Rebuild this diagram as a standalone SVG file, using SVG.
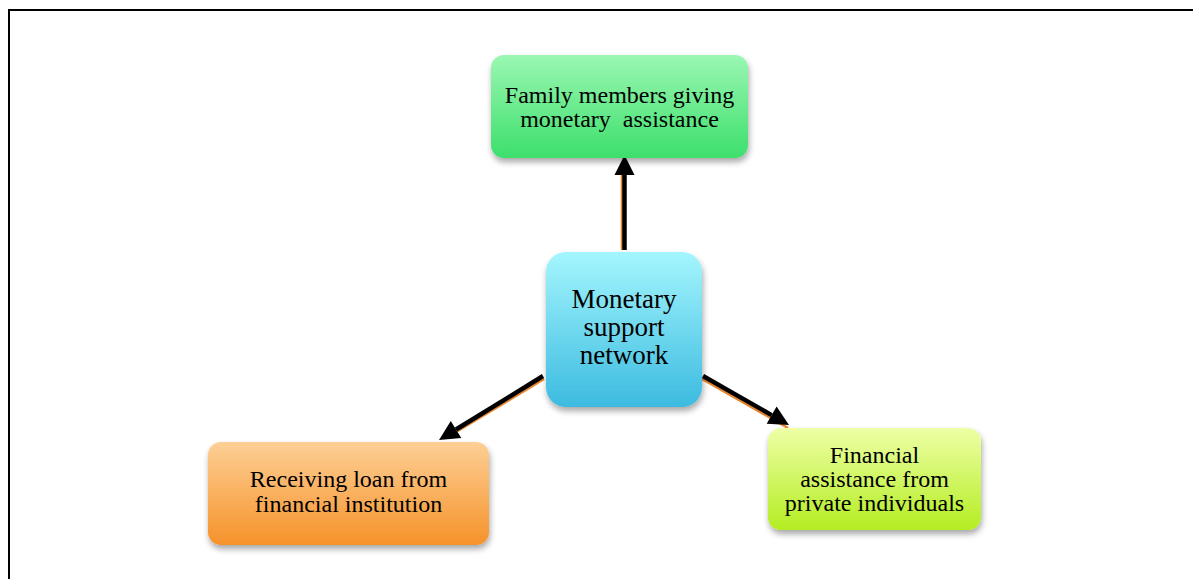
<svg xmlns="http://www.w3.org/2000/svg" width="1193" height="579" viewBox="0 0 1193 579">
<style>
.t{font-family:"Liberation Serif","Times New Roman",serif;fill:#000;text-anchor:middle}
.s{font-size:24px}
.c{font-size:27px}
.ln{stroke:#000;stroke-width:4.5;fill:none}
.ol{stroke:#e8862e;stroke-width:2.5;fill:none}
.hd{fill:#000}
</style>
<defs>
<linearGradient id="gG" x1="0" y1="0" x2="0" y2="1"><stop offset="0" stop-color="#9af7b2"/><stop offset="1" stop-color="#3ddf6c"/></linearGradient>
<linearGradient id="gB" x1="0" y1="0" x2="0" y2="1"><stop offset="0" stop-color="#a4f6fd"/><stop offset="1" stop-color="#3cbbe0"/></linearGradient>
<linearGradient id="gO" x1="0" y1="0" x2="0" y2="1"><stop offset="0" stop-color="#fdcf95"/><stop offset="1" stop-color="#f6922a"/></linearGradient>
<linearGradient id="gY" x1="0" y1="0" x2="0" y2="1"><stop offset="0" stop-color="#eeffa6"/><stop offset="1" stop-color="#b4ed22"/></linearGradient>
<filter id="sh" x="-10%" y="-10%" width="120%" height="130%"><feGaussianBlur in="SourceAlpha" stdDeviation="3"/><feOffset dx="1" dy="4"/><feComponentTransfer><feFuncA type="linear" slope="0.35"/></feComponentTransfer><feMerge><feMergeNode/><feMergeNode in="SourceGraphic"/></feMerge></filter>
</defs>
<rect x="9" y="10" width="1190" height="580" fill="#fff" stroke="#000" stroke-width="2"/>
<g id="connectors">
<line class="ol" x1="622" y1="250" x2="622" y2="172"/>
<line class="ln" x1="624.5" y1="250" x2="624.5" y2="174"/>
<polygon class="hd" points="624.5,155 634.5,175 614.5,175"/>
<line class="ol" x1="544" y1="379" x2="446" y2="438"/>
<line class="ln" x1="543" y1="376" x2="456" y2="429.5"/>
<polygon class="hd" points="439,440 461.3,438 450.8,421"/>
<line class="ol" x1="702" y1="379" x2="788" y2="428"/>
<line class="ln" x1="703" y1="376" x2="771.6" y2="415.1"/>
<polygon class="hd" points="789,425 766.7,423.8 776.6,406.4"/>
</g>
<g id="family">
<rect x="491" y="55" width="257" height="103" rx="13" fill="url(#gG)" filter="url(#sh)"/>
<text class="t s" x="619.5" y="103">Family members giving</text>
<text class="t s" x="619.5" y="127" xml:space="preserve">monetary  assistance</text>
</g>
<g id="center">
<rect x="546" y="252" width="156" height="155" rx="20" fill="url(#gB)" filter="url(#sh)"/>
<text class="t c" x="624" y="308">Monetary</text>
<text class="t c" x="624" y="336">support</text>
<text class="t c" x="624" y="364">network</text>
</g>
<g id="loan">
<rect x="208" y="442" width="281" height="103" rx="13" fill="url(#gO)" filter="url(#sh)"/>
<text class="t s" x="348.5" y="487">Receiving loan from</text>
<text class="t s" x="348.5" y="512">financial institution</text>
</g>
<g id="private">
<rect x="768" y="428" width="213" height="102" rx="13" fill="url(#gY)" filter="url(#sh)"/>
<text class="t s" x="874.5" y="463">Financial</text>
<text class="t s" x="874.5" y="487">assistance from</text>
<text class="t s" x="874.5" y="511">private individuals</text>
</g>
</svg>
